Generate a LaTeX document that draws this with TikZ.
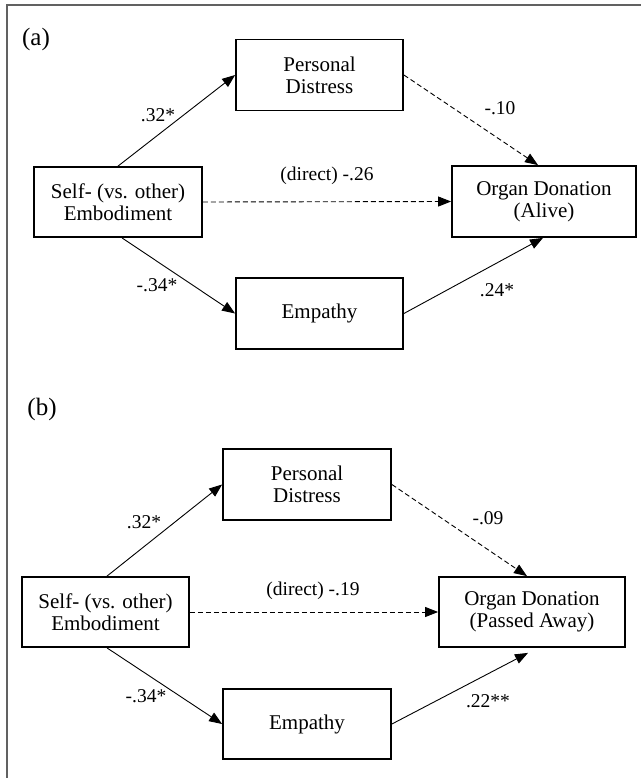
\documentclass[tikz,border=0pt]{standalone}
\usepackage{fontspec}
\setmainfont{Liberation Serif}
\usetikzlibrary{arrows.meta}
\begin{document}
\begin{tikzpicture}[x=1pt,y=-1pt,
  box/.style={draw=black,line width=1.8pt,inner sep=0pt,align=center,
    font=\fontsize{21}{22}\selectfont},
  lbl/.style={inner sep=0pt,font=\fontsize{19.5}{22}\selectfont},
  plbl/.style={inner sep=0pt,font=\fontsize{25}{26}\selectfont},
  arr/.style={line width=0.9pt,-{Triangle[length=13pt,width=10pt]}},
  darr/.style={arr,dash pattern=on 5pt off 3pt}]
\useasboundingbox (0,0) rectangle (641,778);
% frame (cropped: top and left edges visible)
\draw[line width=1.7pt,black!62] (6.8,778) -- (6.8,4.8) -- (641,4.8);

% ---------- panel (a)
\node[plbl] (la) at (36,39) {(a)};
\node[box,minimum width=168pt,minimum height=70pt] (sa) at (118,202) {Self- (vs. other)\\Embodiment};
\node[box,minimum width=167pt,minimum height=71pt] (pa) at (319.5,75) {Personal\\Distress};
\node[box,minimum width=167pt,minimum height=71pt] (ea) at (319.5,313.5) {Empathy};
\node[box,minimum width=184pt,minimum height=71pt] (oa) at (544,201.5) {Organ Donation\\(Alive)};

\draw[arr] (sa.north) -- (pa.west);
\draw[darr] (pa.east) -- ([xshift=-6pt]oa.north);
\draw[darr] (sa.east) -- (oa.west);
\draw[arr] ([xshift=4pt]sa.south) -- (ea.west);
\draw[arr] (ea.east) -- ([xshift=-1pt]oa.south);

\node[lbl] (a1) at (158,115) {.32*};
\node[lbl] (a2) at (500,108) {-.10};
\node[lbl] (a3) at (327,176) {(direct) -.26};
\node[lbl] (a4) at (157,285) {-.34*};
\node[lbl] (a5) at (497,290) {.24*};

% ---------- panel (b)
\node[plbl] (lb) at (42,409) {(b)};
\node[box,minimum width=167pt,minimum height=70pt] (sb) at (105.5,612) {Self- (vs. other)\\Embodiment};
\node[box,minimum width=168pt,minimum height=71pt] (pb) at (307,484.5) {Personal\\Distress};
\node[box,minimum width=168pt,minimum height=70pt] (eb) at (307,724) {Empathy};
\node[box,minimum width=186pt,minimum height=70pt] (ob) at (532,612) {Organ Donation\\(Passed Away)};

\draw[arr] ([xshift=1.5pt]sb.north) -- (pb.west);
\draw[darr] (pb.east) -- ([xshift=-5pt]ob.north);
\draw[darr] (sb.east) -- (ob.west);
\draw[arr] ([xshift=1.5pt]sb.south) -- (eb.west);
\draw[arr] (eb.east) -- ([xshift=-4pt,yshift=-5pt]ob.south);

\node[lbl] (b1) at (144,522) {.32*};
\node[lbl] (b2) at (488,518) {-.09};
\node[lbl] (b3) at (313,591) {(direct) -.19};
\node[lbl] (b4) at (146,696) {-.34*};
\node[lbl] (b5) at (488,701) {.22**};
\end{tikzpicture}
\end{document}
